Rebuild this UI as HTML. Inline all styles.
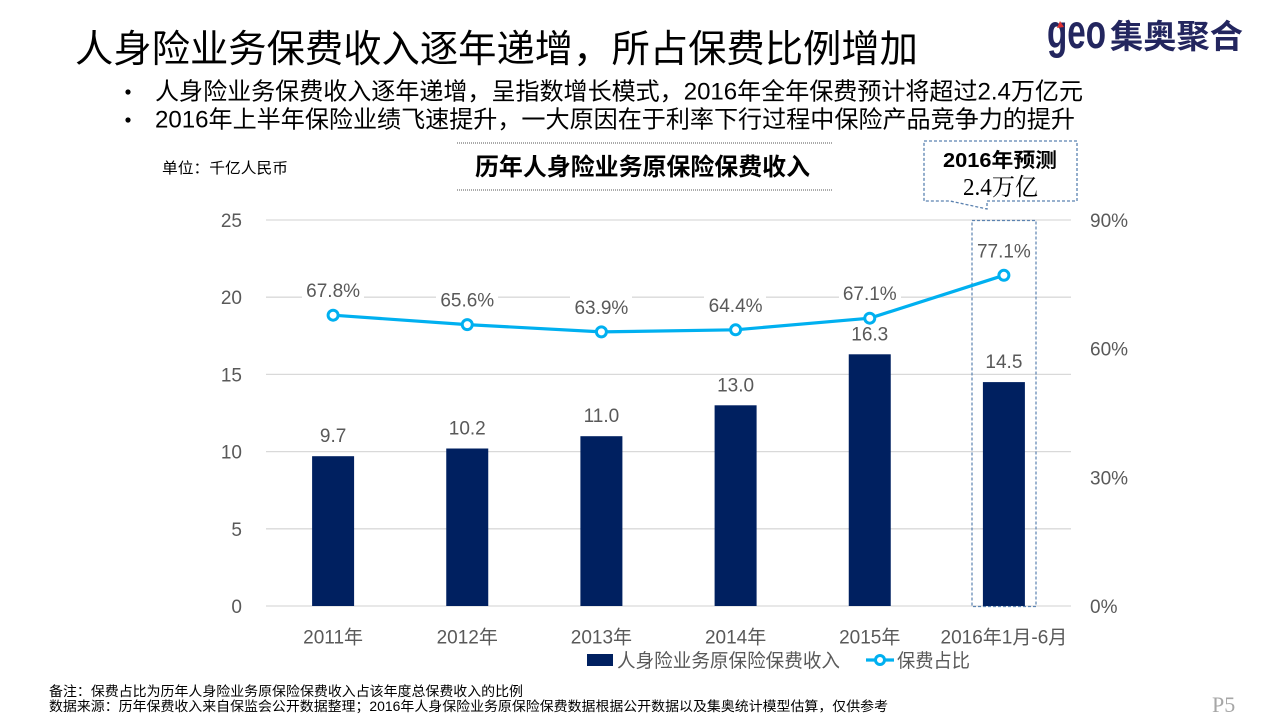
<!DOCTYPE html>
<html>
<head>
<meta charset="utf-8">
<style>
  html,body{margin:0;padding:0;background:#fff;}
  svg{display:block;}
  text{font-family:"Liberation Sans","Noto Sans CJK SC",sans-serif;}
  .serif{font-family:"Liberation Serif","Noto Serif CJK SC",serif;}
</style>
</head>
<body>
<svg width="1280" height="720" viewBox="0 0 1280 720" xmlns="http://www.w3.org/2000/svg">
  <rect width="1280" height="720" fill="#fff"/>

  <!-- Title -->
  <text x="75" y="62" font-size="38" fill="#000" textLength="843" lengthAdjust="spacingAndGlyphs">人身险业务保费收入逐年递增，所占保费比例增加</text>

  <!-- Logo -->
  <text x="1047" y="48" font-size="48" font-weight="bold" fill="#23265f" textLength="59" lengthAdjust="spacingAndGlyphs">geo</text>
  <polygon points="1057,28 1060,21 1064,27" fill="#e03030"/>
  <text x="1110" y="48" font-size="33" font-weight="bold" fill="#23265f" textLength="133" lengthAdjust="spacingAndGlyphs">集奥聚合</text>

  <!-- Bullets -->
  <circle cx="128" cy="92" r="2.6" fill="#000"/>
  <circle cx="128" cy="120" r="2.6" fill="#000"/>
  <text x="155" y="99.5" font-size="24" fill="#000" textLength="928" lengthAdjust="spacingAndGlyphs">人身险业务保费收入逐年递增，呈指数增长模式，2016年全年保费预计将超过2.4万亿元</text>
  <text x="155" y="127.5" font-size="24" fill="#000" textLength="920" lengthAdjust="spacingAndGlyphs">2016年上半年保险业绩飞速提升，一大原因在于利率下行过程中保险产品竞争力的提升</text>

  <!-- Unit -->
  <text x="162" y="173" font-size="15" fill="#000" textLength="126" lengthAdjust="spacingAndGlyphs">单位：千亿人民币</text>

  <!-- Chart title with dashed lines -->
  <line x1="457" y1="143" x2="833" y2="143" stroke="#555" stroke-width="1" stroke-dasharray="1,1"/>
  <line x1="457" y1="190" x2="833" y2="190" stroke="#555" stroke-width="1" stroke-dasharray="1,1"/>
  <text x="475" y="175" font-size="24" font-weight="bold" fill="#000" textLength="335" lengthAdjust="spacingAndGlyphs">历年人身险业务原保险保费收入</text>

  <!-- Callout -->
  <path d="M924,141 L1077,141 L1077,201 L987,201 L987,209 L950,201 L924,201 Z" fill="#fff" stroke="#5b82b0" stroke-width="1.3" stroke-dasharray="3,2"/>
  <text x="943" y="167" font-size="20" font-weight="bold" fill="#000" textLength="114" lengthAdjust="spacingAndGlyphs">2016年预测</text>
  <text x="963" y="195" font-size="24" class="serif" fill="#000" textLength="75" lengthAdjust="spacingAndGlyphs">2.4万亿</text>

  <!-- Gridlines -->
  <g stroke="#d9d9d9" stroke-width="1.3">
    <line x1="266" y1="220" x2="1071" y2="220"/>
    <line x1="266" y1="297.2" x2="1071" y2="297.2"/>
    <line x1="266" y1="374.4" x2="1071" y2="374.4"/>
    <line x1="266" y1="451.6" x2="1071" y2="451.6"/>
    <line x1="266" y1="528.8" x2="1071" y2="528.8"/>
    <line x1="266" y1="606" x2="1071" y2="606"/>
  </g>

  <!-- Left axis labels -->
  <g font-size="19" fill="#595959" text-anchor="end">
    <text x="242" y="227">25</text>
    <text x="242" y="304.2">20</text>
    <text x="242" y="381.4">15</text>
    <text x="242" y="458.6">10</text>
    <text x="242" y="535.8">5</text>
    <text x="242" y="613">0</text>
  </g>
  <!-- Right axis labels -->
  <g font-size="19" fill="#595959">
    <text x="1090" y="227">90%</text>
    <text x="1090" y="355.7">60%</text>
    <text x="1090" y="484.3">30%</text>
    <text x="1090" y="613">0%</text>
  </g>

  <!-- Dashed box around last bar -->
  <rect x="972" y="220.5" width="64" height="386" fill="none" stroke="#5b82b0" stroke-width="1.2" stroke-dasharray="3,2"/>

  <!-- Bars -->
  <g fill="#002060">
    <rect x="312.1" y="456.2" width="42" height="149.8"/>
    <rect x="446.25" y="448.5" width="42" height="157.5"/>
    <rect x="580.4" y="436.2" width="42" height="169.8"/>
    <rect x="714.6" y="405.3" width="42" height="200.7"/>
    <rect x="848.75" y="354.3" width="42" height="251.7"/>
    <rect x="982.9" y="382.1" width="42" height="223.9"/>
  </g>

  <!-- Bar labels -->
  <g font-size="19" fill="#595959" text-anchor="middle">
    <text x="333.1" y="442.2">9.7</text>
    <text x="467.25" y="434.5">10.2</text>
    <text x="601.4" y="422.2">11.0</text>
    <text x="735.6" y="391.3">13.0</text>
    <text x="869.75" y="340.3">16.3</text>
    <text x="1003.9" y="368.1">14.5</text>
  </g>

  <!-- Line label backgrounds -->
  <g fill="#fff">
    <rect x="302" y="279" width="62" height="22"/>
    <rect x="436" y="288.5" width="62" height="22"/>
    <rect x="570" y="296" width="62" height="22"/>
    <rect x="704" y="294" width="62" height="22"/>
    <rect x="839" y="282" width="62" height="22"/>
    <rect x="974" y="239.5" width="59" height="22"/>
  </g>
  <g font-size="19" fill="#595959" text-anchor="middle">
    <text x="333.1" y="297.2">67.8%</text>
    <text x="467.25" y="306.6">65.6%</text>
    <text x="601.4" y="313.9">63.9%</text>
    <text x="735.6" y="311.8">64.4%</text>
    <text x="869.75" y="300.2">67.1%</text>
    <text x="1003.9" y="257.3">77.1%</text>
  </g>

  <!-- Line -->
  <polyline points="333.1,315.2 467.25,324.6 601.4,331.9 735.6,329.8 869.75,318.2 1003.9,275.3" fill="none" stroke="#00b0f0" stroke-width="3.2" stroke-linejoin="round"/>
  <g fill="#fff" stroke="#00b0f0" stroke-width="3">
    <circle cx="333.1" cy="315.2" r="5"/>
    <circle cx="467.25" cy="324.6" r="5"/>
    <circle cx="601.4" cy="331.9" r="5"/>
    <circle cx="735.6" cy="329.8" r="5"/>
    <circle cx="869.75" cy="318.2" r="5"/>
    <circle cx="1003.9" cy="275.3" r="5"/>
  </g>

  <!-- X axis labels -->
  <g font-size="19" fill="#595959" text-anchor="middle">
    <text x="333.1" y="643.5">2011年</text>
    <text x="467.25" y="643.5">2012年</text>
    <text x="601.4" y="643.5">2013年</text>
    <text x="735.6" y="643.5">2014年</text>
    <text x="869.75" y="643.5">2015年</text>
    <text x="1003.9" y="643.5">2016年1月-6月</text>
  </g>

  <!-- Legend -->
  <rect x="587" y="654" width="26" height="12" fill="#002060"/>
  <text x="617" y="667" font-size="19" fill="#595959" textLength="223" lengthAdjust="spacingAndGlyphs">人身险业务原保险保费收入</text>
  <line x1="866" y1="660" x2="894" y2="660" stroke="#00b0f0" stroke-width="3.2"/>
  <circle cx="880" cy="660" r="4.5" fill="#fff" stroke="#00b0f0" stroke-width="3"/>
  <text x="897" y="667" font-size="19" fill="#595959" textLength="73" lengthAdjust="spacingAndGlyphs">保费占比</text>

  <!-- Footnotes -->
  <text x="49" y="696" font-size="13.5" fill="#000" textLength="474" lengthAdjust="spacingAndGlyphs">备注：保费占比为历年人身险业务原保险保费收入占该年度总保费收入的比例</text>
  <text x="49" y="711" font-size="13.5" fill="#000" textLength="839" lengthAdjust="spacingAndGlyphs">数据来源：历年保费收入来自保监会公开数据整理；2016年人身保险业务原保险保费数据根据公开数据以及集奥统计模型估算，仅供参考</text>

  <!-- Page number -->
  <text x="1212" y="712" font-size="22" class="serif" fill="#a6a6a6">P5</text>
</svg>
</body>
</html>
